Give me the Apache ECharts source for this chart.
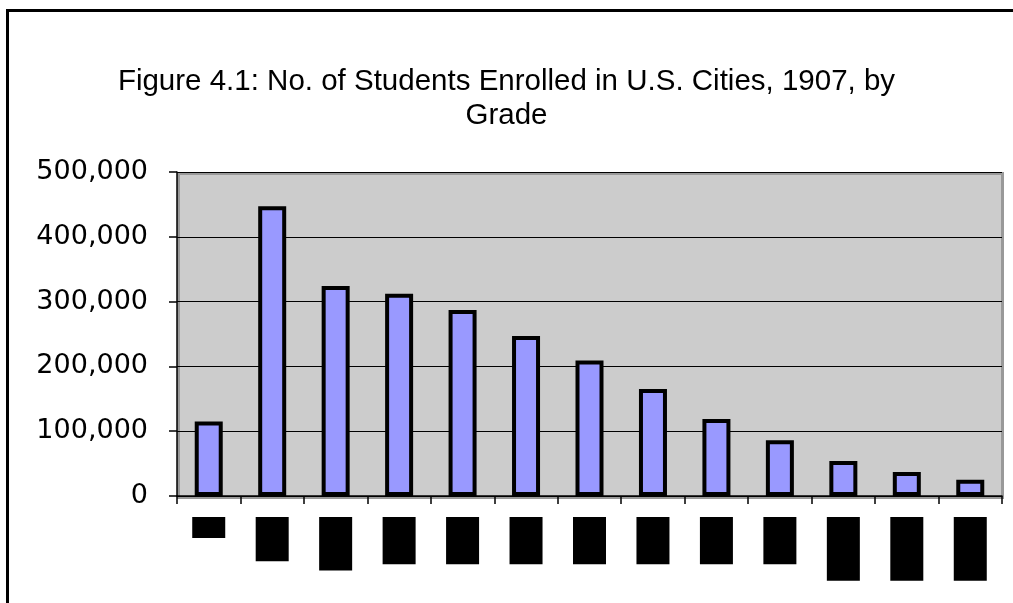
<!DOCTYPE html>
<html>
<head>
<meta charset="utf-8">
<script src="https://cdn.jsdelivr.net/npm/echarts@6/dist/echarts.min.js"></script>
<style>
  html, body { margin: 0; padding: 0; background: #fff; }
  #main { width: 1013px; height: 603px; }
</style>
</head>
<body>
<div id="main"></div>
<script type="text/javascript">
  // grades (x axis)
  var grades = ['K', '1st', '2nd', '3rd', '4th', '5th', '6th', '7th', '8th', '9th', '10th', '11th', '12th'];
  // students enrolled
  var students = [115000, 447000, 324000, 312000, 287000, 247000, 209000, 165000, 119000, 86000, 54000, 37000, 25000];
  // y axis ticks
  var yMin = 0, yMax = 500000, yStep = 100000;

  // plot box (pixels)
  var W = 1013, H = 603;
  var gLeft = 177, gTop = 172, gRight = 11, gBottom = 107;

  var chart = echarts.init(document.getElementById('main'));
  chart.setOption({
    animation: false,
    title: {
      text: 'Figure 4.1: No. of Students Enrolled in U.S. Cities, 1907, by\nGrade',
      left: 'center',
      top: 60,
      textStyle: {
        fontFamily: 'Liberation Sans',
        fontWeight: 'normal',
        fontSize: 29.5,
        lineHeight: 34,
        color: '#000'
      }
    },
    // outer frame + grey plot background with its inset border
    graphic: [
      {
        type: 'rect', z: -10, silent: true,
        shape: { x: 7.5, y: 10.5, width: W + 20, height: H + 20 },
        style: { fill: '#fff', stroke: '#000', lineWidth: 3 }
      },
      {
        type: 'rect', z: -5, silent: true,
        shape: { x: gLeft, y: gTop, width: W - gLeft - gRight + 2, height: H - gTop - gBottom + 3 },
        style: { fill: '#999999' }
      },
      {
        type: 'rect', z: -4, silent: true,
        shape: { x: gLeft + 3, y: gTop + 3, width: W - gLeft - gRight - 4, height: H - gTop - gBottom - 3 },
        style: { fill: '#cccccc' }
      }
    ],
    grid: {
      left: gLeft, top: gTop, right: gRight, bottom: gBottom,
      containLabel: false
    },
    xAxis: {
      type: 'category',
      data: grades,
      axisLine: { lineStyle: { color: '#000', width: 1.5 } },
      axisTick: { show: true, length: 8, lineStyle: { color: '#000', width: 1.5 } },
      axisLabel: {
        interval: 0,
        rotate: 90,
        margin: 21,
        fontFamily: 'DejaVu Sans',
        fontSize: 26,
        lineHeight: 33,
        color: '#000',
        backgroundColor: '#000',
        padding: [0, 2]
      }
    },
    yAxis: {
      type: 'value',
      min: yMin, max: yMax, interval: yStep,
      axisLine: { show: true, lineStyle: { color: '#000', width: 1.5 } },
      axisTick: { show: true, length: 8, lineStyle: { color: '#000', width: 1.5 } },
      splitLine: { show: true, lineStyle: { color: '#000', width: 1.2 } },
      axisLabel: {
        margin: 29,
        fontFamily: 'DejaVu Sans',
        fontSize: 27,
        color: '#000',
        formatter: function (v) { return v.toLocaleString('en-US'); }
      }
    },
    series: [{
      type: 'bar',
      data: students,
      barWidth: 28,
      itemStyle: { color: '#9999ff', borderColor: '#000', borderWidth: 4 }
    }]
  });
</script>
</body>
</html>
